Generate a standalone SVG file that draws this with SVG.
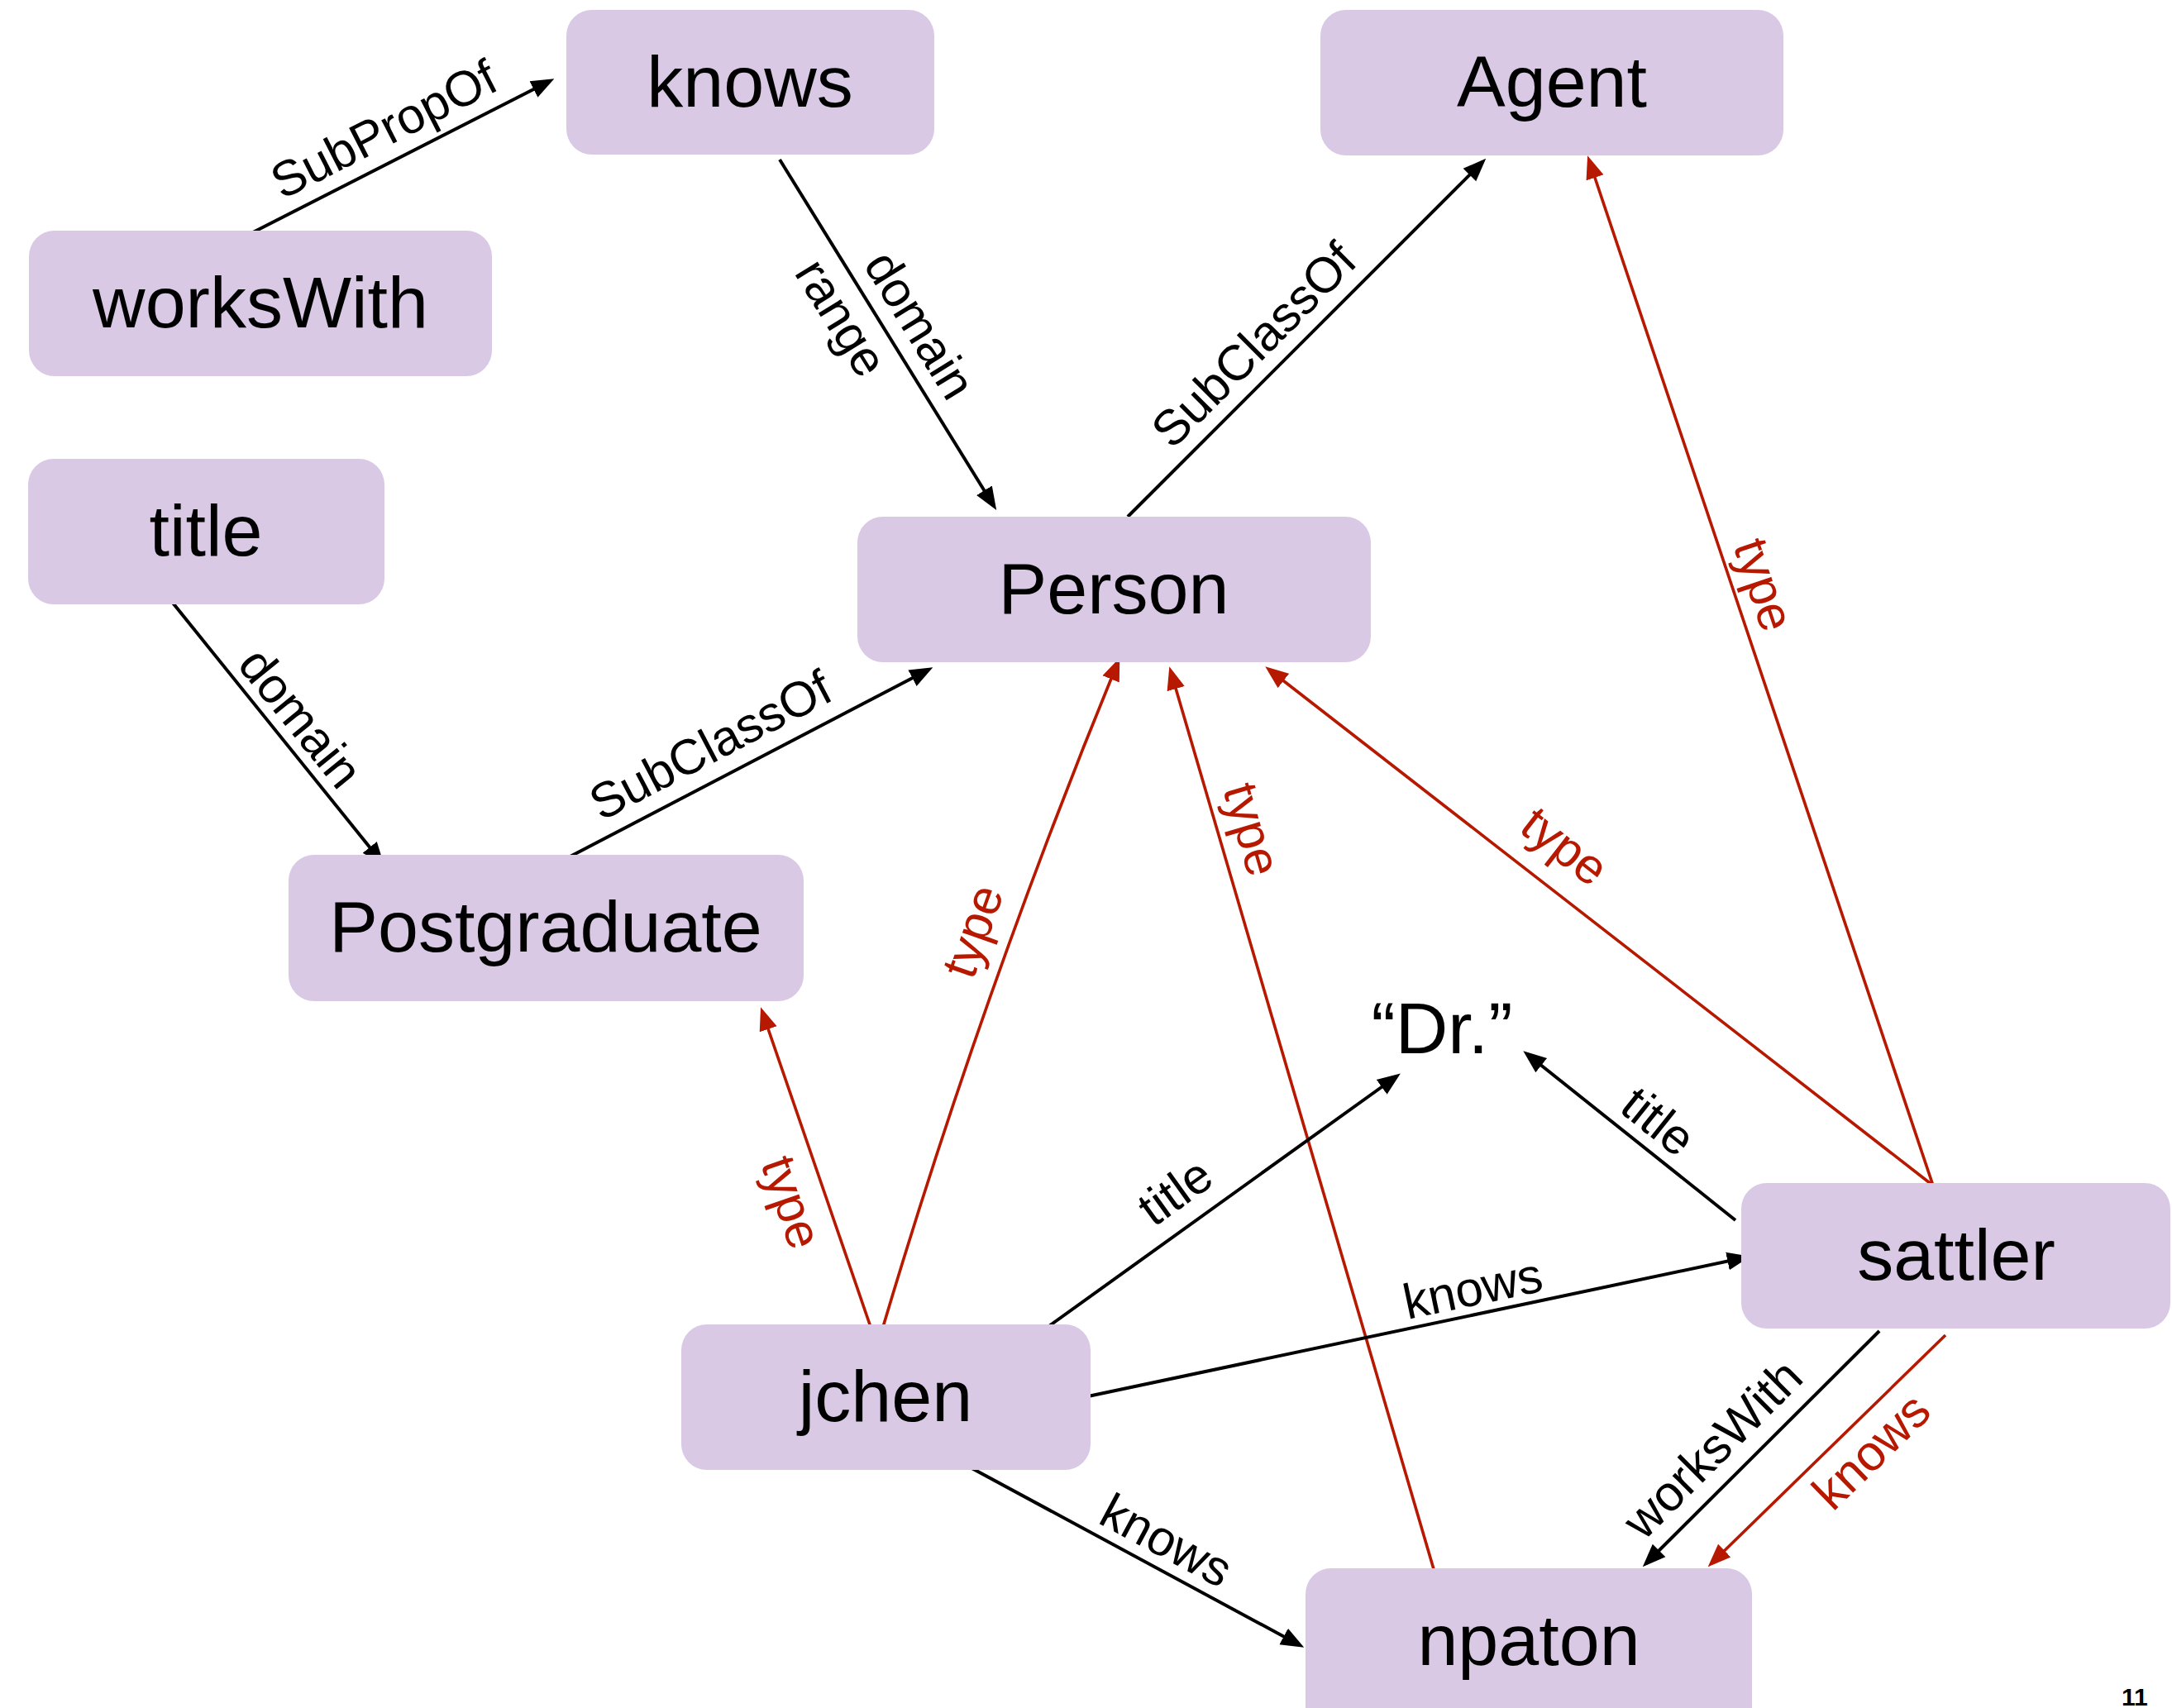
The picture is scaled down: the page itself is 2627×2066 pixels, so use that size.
<svg xmlns="http://www.w3.org/2000/svg" width="2627" height="2066" viewBox="0 0 2627 2066">
<style>
.node rect{fill:#d9c9e5}
.node text,.lit{font-family:"Liberation Sans",Arial,sans-serif;font-size:88px;text-anchor:middle;fill:#000}
.e{fill:none;stroke-width:4}
.k{stroke:#000}
.r{stroke:#b71800;stroke-width:3.6}
.lbl{font-family:"Liberation Sans",Arial,sans-serif;font-size:60px;text-anchor:middle}
.lk{fill:#000}
.lr{fill:#b71800}
</style>
<defs>
<marker id="ak" markerUnits="userSpaceOnUse" markerWidth="28" markerHeight="24" refX="22" refY="12" orient="auto">
<path d="M0,1 L28,12 L0,23 z" fill="#000"/>
</marker>
<marker id="ar" markerUnits="userSpaceOnUse" markerWidth="28" markerHeight="24" refX="22" refY="12" orient="auto">
<path d="M0,1 L28,12 L0,23 z" fill="#b71800"/>
</marker>
</defs>
<rect width="2627" height="2066" fill="#fff"/>

<g id="connectors">
<line class="e k" x1="306" y1="281" x2="665" y2="98" marker-end="url(#ak)"/>
<text class="lbl lk" transform="translate(464,156) rotate(-27)" dy="0.35em">SubPropOf</text>

<line class="e k" x1="943" y1="193" x2="1202" y2="612" marker-end="url(#ak)"/>
<text class="lbl lk" transform="translate(1113,393) rotate(58.3)" dy="0.35em">domain</text>
<text class="lbl lk" transform="translate(1018,384) rotate(58.3)" dy="0.35em">range</text>

<line class="e k" x1="1364" y1="625" x2="1793" y2="196" marker-end="url(#ak)"/>
<text class="lbl lk" transform="translate(1516,417) rotate(-45)" dy="0.35em">SubClassOf</text>

<line class="e k" x1="208" y1="728" x2="461" y2="1042" marker-end="url(#ak)"/>
<text class="lbl lk" transform="translate(364,868) rotate(51)" dy="0.35em">domain</text>

<line class="e k" x1="680" y1="1041" x2="1123" y2="810" marker-end="url(#ak)"/>
<text class="lbl lk" transform="translate(859,901) rotate(-27.6)" dy="0.35em">SubClassOf</text>

<line class="e r" x1="1053" y1="1605" x2="922" y2="1224" marker-end="url(#ar)"/>
<text class="lbl lr" transform="translate(958,1454) rotate(71)" dy="0.35em">type</text>

<path class="e r" d="M1068,1605 Q1190,1195 1352,801" marker-end="url(#ar)"/>
<text class="lbl lr" transform="translate(1176,1126) rotate(-70.5)" dy="0.35em">type</text>

<line class="e r" x1="1734" y1="1898" x2="1416" y2="812" marker-end="url(#ar)"/>
<text class="lbl lr" transform="translate(1515,1003) rotate(73.6)" dy="0.35em">type</text>

<line class="e r" x1="2338" y1="1434" x2="1535" y2="810" marker-end="url(#ar)"/>
<text class="lbl lr" transform="translate(1893,1023) rotate(37.8)" dy="0.35em">type</text>

<line class="e r" x1="2338" y1="1434" x2="1922" y2="194" marker-end="url(#ar)"/>
<text class="lbl lr" transform="translate(2134,707) rotate(71.4)" dy="0.35em">type</text>

<line class="e k" x1="1266" y1="1606" x2="1689" y2="1302" marker-end="url(#ak)"/>
<text class="lbl lk" transform="translate(1421,1441) rotate(-35.7)" dy="0.35em">title</text>

<line class="e k" x1="2099" y1="1476" x2="1847" y2="1275" marker-end="url(#ak)"/>
<text class="lbl lk" transform="translate(2006,1356) rotate(38.6)" dy="0.35em">title</text>

<line class="e k" x1="1316" y1="1689" x2="2111" y2="1521" marker-end="url(#ak)"/>
<text class="lbl lk" transform="translate(1781,1558) rotate(-11.9)" dy="0.35em">knows</text>

<line class="e k" x1="1168" y1="1772" x2="1572" y2="1990" marker-end="url(#ak)"/>
<text class="lbl lk" transform="translate(1411,1863) rotate(28.3)" dy="0.35em">knows</text>

<line class="e k" x1="2273" y1="1610" x2="1991" y2="1891" marker-end="url(#ak)"/>
<text class="lbl lk" transform="translate(2071,1752) rotate(-45)" dy="0.35em">worksWith</text>

<line class="e r" x1="2353" y1="1615" x2="2070" y2="1891" marker-end="url(#ar)"/>
<text class="lbl lr" transform="translate(2263,1755) rotate(-44.3)" dy="0.35em">knows</text>
</g>

<g id="node-knows" class="node"><rect x="685" y="12" width="445" height="175" rx="31"/><text x="907" y="129">knows</text></g>
<g id="node-Agent" class="node"><rect x="1597" y="12" width="560" height="176" rx="31"/><text x="1877" y="129">Agent</text></g>
<g id="node-worksWith" class="node"><rect x="35" y="279" width="560" height="176" rx="31"/><text x="315" y="396">worksWith</text></g>
<g id="node-title" class="node"><rect x="34" y="555" width="431" height="176" rx="31"/><text x="249" y="672">title</text></g>
<g id="node-Person" class="node"><rect x="1037" y="625" width="621" height="176" rx="31"/><text x="1347" y="742">Person</text></g>
<g id="node-Postgraduate" class="node"><rect x="349" y="1034" width="623" height="177" rx="31"/><text x="660" y="1151">Postgraduate</text></g>
<g id="node-jchen" class="node"><rect x="824" y="1602" width="495" height="176" rx="31"/><text x="1071" y="1719">jchen</text></g>
<g id="node-sattler" class="node"><rect x="2106" y="1431" width="519" height="176" rx="31"/><text x="2366" y="1548">sattler</text></g>
<g id="node-npaton" class="node"><rect x="1579" y="1897" width="540" height="200" rx="31"/><text x="1849" y="2014">npaton</text></g>
<g id="node-Dr"><text class="lit" x="1744" y="1274">“Dr.”</text></g>

<text x="2566" y="2063" font-family="Liberation Sans, Arial, sans-serif" font-size="30" font-weight="bold" fill="#000">11</text>
</svg>
